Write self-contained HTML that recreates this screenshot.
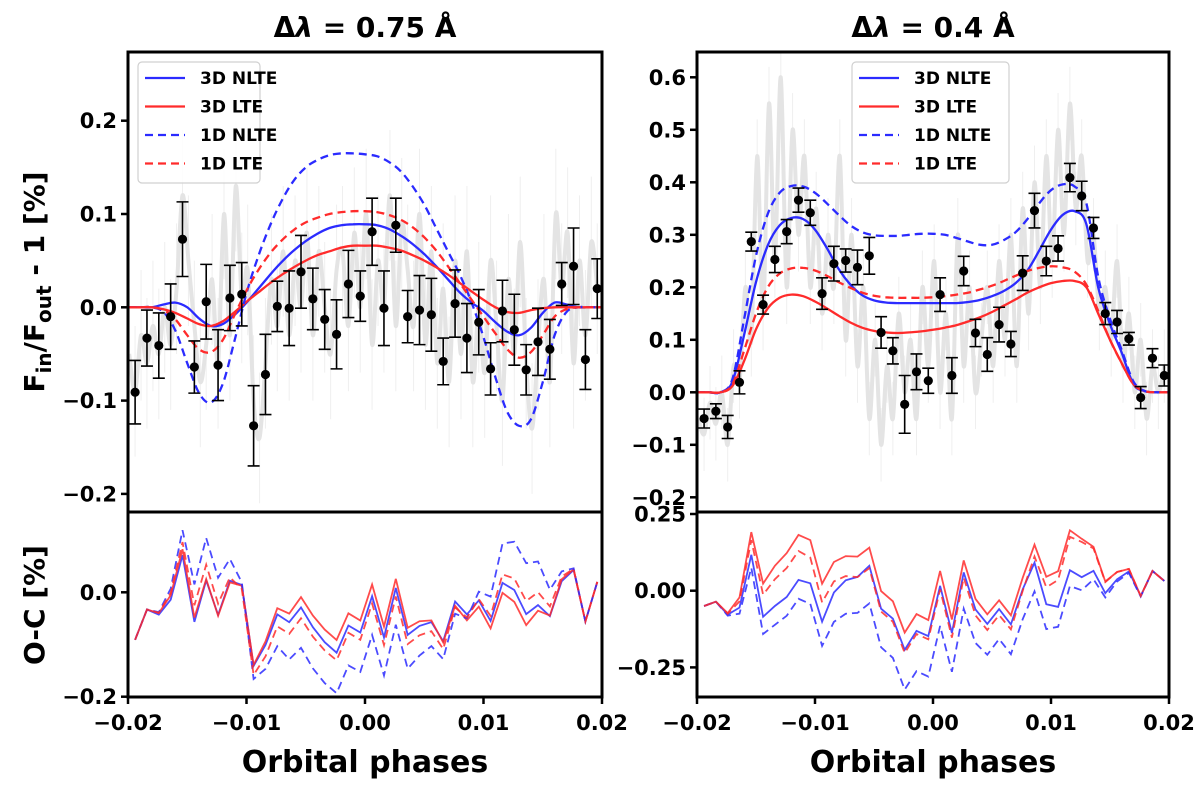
<!DOCTYPE html>
<html><head><meta charset="utf-8"><style>
body{margin:0;background:#fff}
svg text{font-family:"DejaVu Sans","Liberation Sans",sans-serif;font-weight:bold;fill:#000}
</style></head><body>
<svg id="fig" width="1200" height="788" viewBox="0 0 1200 788" xmlns="http://www.w3.org/2000/svg">
<text x="365" y="37" font-size="28" text-anchor="middle">Δ<tspan font-style="italic">λ</tspan> = 0.75 Å</text>
<text x="933" y="37" font-size="28" text-anchor="middle">Δ<tspan font-style="italic">λ</tspan> = 0.4 Å</text>
<text transform="translate(44,282) rotate(-90)" font-size="28" text-anchor="middle">F<tspan font-size="20" dy="7">in</tspan><tspan dy="-7">/F</tspan><tspan font-size="20" dy="7">out</tspan><tspan dy="-7"> - 1 [%]</tspan></text>
<text transform="translate(44,605) rotate(-90)" font-size="28" text-anchor="middle">O-C [%]</text>
<text x="365" y="772" font-size="30" text-anchor="middle">Orbital phases</text>
<text x="933" y="772" font-size="30" text-anchor="middle">Orbital phases</text>
</svg>
<script>
const phases=[-0.0194,-0.0184,-0.0174,-0.0164,-0.0154,-0.0144,-0.0134,-0.0124,-0.0114,-0.0104,-0.0094,-0.0084,-0.0074,-0.0064,-0.0054,-0.0044,-0.0034,-0.0024,-0.0014,-0.0004,0.0006,0.0016,0.0026,0.0036,0.0046,0.0056,0.0066,0.0076,0.0086,0.0096,0.0106,0.0116,0.0126,0.0136,0.0146,0.0156,0.0166,0.0176,0.0186,0.0196];
const obsLeft=[-0.091,-0.033,-0.041,-0.010,0.073,-0.064,0.006,-0.062,0.010,0.014,-0.127,-0.072,0.001,-0.001,0.038,0.009,-0.013,-0.029,0.025,0.012,0.081,-0.001,0.088,-0.010,-0.003,-0.008,-0.058,0.004,-0.033,-0.016,-0.066,-0.004,-0.024,-0.067,-0.037,-0.045,0.025,0.044,-0.056,0.020];
const errLeft=[0.034,0.03,0.035,0.035,0.04,0.028,0.04,0.038,0.035,0.034,0.043,0.043,0.027,0.04,0.039,0.033,0.032,0.037,0.036,0.027,0.036,0.04,0.029,0.028,0.037,0.039,0.025,0.036,0.037,0.035,0.028,0.033,0.038,0.027,0.036,0.032,0.023,0.041,0.032,0.032];
const obsRight=[-0.050,-0.036,-0.066,0.019,0.287,0.167,0.253,0.306,0.366,0.342,0.188,0.245,0.251,0.238,0.260,0.114,0.079,-0.023,0.039,0.022,0.186,0.032,0.231,0.113,0.072,0.129,0.092,0.227,0.346,0.250,0.274,0.409,0.374,0.313,0.150,0.134,0.102,-0.010,0.065,0.032];
const errRight=[0.018,0.014,0.022,0.022,0.018,0.018,0.025,0.023,0.023,0.024,0.03,0.033,0.022,0.033,0.035,0.03,0.025,0.055,0.034,0.024,0.032,0.034,0.028,0.026,0.032,0.033,0.024,0.033,0.033,0.028,0.024,0.027,0.028,0.02,0.021,0.022,0.012,0.021,0.018,0.02];
const modelGrid=[-0.020,-0.019,-0.018,-0.017,-0.016,-0.015,-0.014,-0.013,-0.012,-0.011,-0.010,-0.009,-0.008,-0.007,-0.006,-0.005,-0.004,-0.003,-0.002,-0.001,0,0.001,0.002,0.003,0.004,0.005,0.006,0.007,0.008,0.009,0.010,0.011,0.012,0.013,0.014,0.015,0.016,0.017,0.018,0.019,0.020];
const L3DNLTE=[0,0,0,0.003,0.005,0.0,-0.012,-0.02,-0.018,-0.008,0.005,0.02,0.035,0.049,0.061,0.071,0.079,0.085,0.088,0.089,0.089,0.088,0.084,0.077,0.068,0.057,0.044,0.030,0.016,0.005,-0.004,-0.016,-0.026,-0.030,-0.022,-0.006,0.005,0.003,0,0,0];
const L3DLTE=[0,0,0,-0.002,-0.006,-0.012,-0.018,-0.02,-0.015,-0.005,0.006,0.016,0.026,0.035,0.043,0.050,0.056,0.060,0.064,0.066,0.066,0.066,0.064,0.061,0.056,0.050,0.043,0.035,0.026,0.017,0.008,0.0,-0.005,-0.006,-0.003,-0.001,0,0,0,0,0];
const L1DNLTE=[0,0,0,-0.005,-0.025,-0.06,-0.092,-0.102,-0.082,-0.035,0.015,0.055,0.088,0.115,0.136,0.150,0.158,0.163,0.165,0.165,0.164,0.162,0.156,0.146,0.13,0.11,0.085,0.06,0.035,0.005,-0.032,-0.075,-0.112,-0.127,-0.12,-0.08,-0.03,-0.005,0,0,0];
const L1DLTE=[0,0,0,-0.003,-0.013,-0.03,-0.045,-0.048,-0.035,-0.008,0.018,0.04,0.058,0.072,0.083,0.091,0.096,0.1,0.102,0.103,0.103,0.102,0.099,0.094,0.086,0.075,0.061,0.044,0.026,0.008,-0.01,-0.028,-0.045,-0.054,-0.048,-0.03,-0.01,-0.002,0,0,0];
const R3DNLTE=[0,0,0,0.02,0.11,0.21,0.28,0.318,0.332,0.33,0.31,0.275,0.235,0.205,0.185,0.175,0.171,0.17,0.17,0.17,0.17,0.17,0.17,0.172,0.176,0.183,0.193,0.208,0.232,0.27,0.31,0.338,0.345,0.32,0.2,0.13,0.075,0.015,0.002,0,0];
const R3DLTE=[0,0,0,0.012,0.06,0.12,0.16,0.18,0.186,0.183,0.173,0.16,0.146,0.133,0.123,0.117,0.114,0.113,0.114,0.116,0.119,0.123,0.128,0.135,0.143,0.153,0.165,0.177,0.19,0.2,0.208,0.212,0.212,0.2,0.15,0.1,0.055,0.015,0.002,0,0];
const R1DNLTE=[0,0,0,0.025,0.14,0.26,0.34,0.38,0.393,0.392,0.38,0.36,0.338,0.318,0.305,0.299,0.298,0.298,0.3,0.302,0.302,0.3,0.294,0.287,0.281,0.281,0.29,0.305,0.33,0.36,0.385,0.396,0.392,0.36,0.22,0.14,0.08,0.02,0.002,0,0];
const R1DLTE=[0,0,0,0.015,0.08,0.15,0.2,0.226,0.236,0.237,0.232,0.222,0.21,0.199,0.19,0.184,0.181,0.18,0.18,0.18,0.181,0.183,0.186,0.19,0.196,0.203,0.212,0.222,0.231,0.237,0.24,0.238,0.23,0.205,0.155,0.1,0.055,0.015,0.002,0,0];
const grayLeft=[-0.05,-0.09,-0.03,-0.06,-0.02,-0.05,0.0,-0.04,0.02,0.12,0.05,-0.02,-0.08,-0.04,0.03,-0.06,0.1,-0.03,0.13,0.01,0.04,-0.1,-0.14,-0.06,0.03,-0.02,0.06,-0.03,0.05,0.0,0.08,-0.03,0.06,0.0,-0.05,0.04,0.06,-0.02,0.08,0.0,0.1,-0.04,0.05,0.0,0.12,-0.02,0.09,0.04,-0.02,0.1,-0.04,0.06,-0.06,0.02,-0.08,0.05,-0.05,0.06,-0.08,0.0,-0.07,0.05,-0.02,-0.1,0.03,-0.05,0.07,-0.06,-0.13,-0.04,0.03,-0.08,0.1,0.02,0.08,-0.06,0.05,-0.03,0.07,0.02];
const grayRight=[-0.05,-0.08,-0.02,-0.06,0.0,-0.1,0.05,0.02,0.2,0.1,0.45,0.15,0.55,0.25,0.6,0.2,0.5,0.3,0.45,0.2,0.35,0.15,0.3,0.2,0.45,0.1,0.3,0.05,0.2,-0.05,0.1,-0.1,0.05,-0.05,0.15,0.0,0.1,-0.05,0.2,0.05,0.25,0.0,0.15,-0.05,0.3,0.05,0.2,0.0,0.1,0.2,0.05,0.25,0.1,0.3,0.05,0.35,0.15,0.4,0.2,0.45,0.25,0.5,0.3,0.55,0.35,0.45,0.25,0.3,0.15,0.2,0.1,0.25,0.05,0.15,0.0,0.1,-0.05,0.05,0.0,0.05];
const xTicks=[-0.02,-0.01,0.00,0.01,0.02];
const xTickLabels=["\u22120.02","\u22120.01","0.00","0.01","0.02"];
const lTopTicks=[0.2,0.1,0.0,-0.1,-0.2];
const lTopLabels=["0.2","0.1","0.0","\u22120.1","\u22120.2"];
const lBotTicks=[0.0,-0.2];
const lBotLabels=["0.0","\u22120.2"];
const rTopTicks=[0.6,0.5,0.4,0.3,0.2,0.1,0.0,-0.1,-0.2];
const rTopLabels=["0.6","0.5","0.4","0.3","0.2","0.1","0.0","\u22120.1","\u22120.2"];
const rBotTicks=[0.25,0.0,-0.25];
const rBotLabels=["0.25","0.00","\u22120.25"];
const seriesNames=["3D NLTE","3D LTE","1D NLTE","1D LTE"];

const NS="http://www.w3.org/2000/svg";
const svg=document.getElementById('fig');
const BLUE="#2b2bff", RED="#ff2b2b";
function mk(tag,attrs,parent){const e=document.createElementNS(NS,tag);for(const k in attrs)e.setAttribute(k,attrs[k]);(parent||svg).appendChild(e);return e;}
function interp(ph,arr){if(ph<=modelGrid[0])return arr[0];for(let i=0;i<modelGrid.length-1;i++){if(ph<=modelGrid[i+1]){const t=(ph-modelGrid[i])/(modelGrid[i+1]-modelGrid[i]);return arr[i]+t*(arr[i+1]-arr[i]);}}return arr[arr.length-1];}
function smoothPath(pts){let d="M"+pts[0][0].toFixed(1)+","+pts[0][1].toFixed(1);for(let i=0;i<pts.length-1;i++){const p0=pts[Math.max(0,i-1)],p1=pts[i],p2=pts[i+1],p3=pts[Math.min(pts.length-1,i+2)];const c1=[p1[0]+(p2[0]-p0[0])/6,p1[1]+(p2[1]-p0[1])/6],c2=[p2[0]-(p3[0]-p1[0])/6,p2[1]-(p3[1]-p1[1])/6];d+=" C"+c1[0].toFixed(1)+","+c1[1].toFixed(1)+" "+c2[0].toFixed(1)+","+c2[1].toFixed(1)+" "+p2[0].toFixed(1)+","+p2[1].toFixed(1);}return d;}
function linePath(pts){return pts.map((p,i)=>(i?"L":"M")+p[0].toFixed(1)+","+p[1].toFixed(1)).join(" ");}

function panel(cfg){
  const X=ph=>cfg.x0+(ph+0.02)/0.04*(cfg.x1-cfg.x0);
  const YT=v=>cfg.tZero-v*cfg.tScale;
  const YB=v=>cfg.bZero-v*cfg.bScale;
  const clipId="clip-"+cfg.key;
  const cp=mk('clipPath',{id:clipId});
  mk('rect',{x:cfg.x0,y:52,width:cfg.x1-cfg.x0,height:460},cp);
  const clipB="clipb-"+cfg.key;
  const cpb=mk('clipPath',{id:clipB});
  mk('rect',{x:cfg.x0,y:512,width:cfg.x1-cfg.x0,height:185},cpb);
  const g=mk('g',{'clip-path':'url(#'+clipId+')'});
  
  
  const gpts=cfg.gray.map((v,i)=>[X(-0.0199+i*0.0005),YT(v)]);
  gpts.forEach((p,i)=>{
    const eb=mk('line',{x1:p[0],x2:p[0],y1:YT(cfg.gray[i]+0.07),y2:YT(cfg.gray[i]-0.07),stroke:'#efefef','stroke-width':1},g);
    
    
  });
  const gl=mk('path',{d:smoothPath(gpts),fill:'none',stroke:'#e4e4e4','stroke-width':4},g);
  
  
  const models=[[cfg.m3n,BLUE,null],[cfg.m3l,RED,null],[cfg.m1n,BLUE,'8,5'],[cfg.m1l,RED,'8,5']];
  models.forEach((m,k)=>{
    const pts=modelGrid.map((ph,i)=>[X(ph),YT(m[0][i])]);
    const a={d:smoothPath(pts),fill:'none',stroke:m[1],'stroke-width':2.3};
    if(m[2])a['stroke-dasharray']=m[2];
    const p=mk('path',a,g);
    
    
  });
  phases.forEach((ph,i)=>{
    const x=X(ph),v=cfg.obs[i],e=cfg.err[i];
    const eb=mk('path',{d:`M${x},${YT(v+e)}V${YT(v-e)}M${x-6},${YT(v+e)}h12M${x-6},${YT(v-e)}h12`,stroke:'#000','stroke-width':1.6,fill:'none'},g);
    
    
    const c=mk('circle',{cx:x,cy:YT(v),r:4.6,fill:'#000'},g);
    
    
  });
  const gb=mk('g',{'clip-path':'url(#'+clipB+')'});
  
  
  models.forEach((m,k)=>{
    const pts=phases.map((ph,i)=>[X(ph),YB(cfg.obs[i]-interp(ph,m[0]))]);
    const a={d:linePath(pts),fill:'none',stroke:m[1],'stroke-width':1.8,'stroke-opacity':0.85};
    if(m[2])a['stroke-dasharray']=m[2];
    const p=mk('path',a,gb);
    
    
  });
  const f1=mk('rect',{x:cfg.x0,y:52,width:cfg.x1-cfg.x0,height:460,fill:'none',stroke:'#000','stroke-width':3});
  
  
  const f2=mk('rect',{x:cfg.x0,y:512,width:cfg.x1-cfg.x0,height:185,fill:'none',stroke:'#000','stroke-width':3});
  
  
  cfg.tTicks.forEach((v,i)=>{
    const y=YT(v);
    const t=mk('line',{x1:cfg.x0-7,x2:cfg.x0,y1:y,y2:y,stroke:'#000','stroke-width':2.5});
    
    
    const tx=mk('text',{x:cfg.x0-11,y:y+7.5,'font-size':21,'text-anchor':'end'});
    tx.textContent=cfg.tLabels[i];
    
    
  });
  cfg.bTicks.forEach((v,i)=>{
    const y=YB(v);
    const t=mk('line',{x1:cfg.x0-7,x2:cfg.x0,y1:y,y2:y,stroke:'#000','stroke-width':2.5});
    
    
    const tx=mk('text',{x:cfg.x0-11,y:y+7.5,'font-size':21,'text-anchor':'end'});
    tx.textContent=cfg.bLabels[i];
    
    
  });
  xTicks.forEach((v,i)=>{
    const x=X(v);
    const t=mk('line',{x1:x,x2:x,y1:697,y2:704,stroke:'#000','stroke-width':2.5});
    
    
    const tx=mk('text',{x:x,y:730,'font-size':21,'text-anchor':'middle'});
    tx.textContent=xTickLabels[i];
    
    
  });
  const lg=mk('g',{});
  
  
  mk('rect',{x:cfg.lx,y:62,width:cfg.lw,height:121,rx:4,fill:'#fff','fill-opacity':0.85,stroke:'#d0d0d0','stroke-width':1.2},lg);
  const ls=[[BLUE,null],[RED,null],[BLUE,'8,5'],[RED,'8,5']];
  ls.forEach((s,k)=>{
    const y=78+k*28.5;
    const e=mk('g',{},lg);
    
    
    const a={x1:cfg.lx+7,x2:cfg.lx+47,y1:y,y2:y,stroke:s[0],'stroke-width':2.3};
    if(s[1])a['stroke-dasharray']=s[1];
    mk('line',a,e);
    const t=mk('text',{x:cfg.lx+62,y:y+6,'font-size':17},e);
    t.textContent=seriesNames[k];
  });
}
panel({key:'left',x0:128,x1:602,tZero:307.3,tScale:933,bZero:592.3,bScale:522,obs:obsLeft,err:errLeft,gray:grayLeft,m3n:L3DNLTE,m3l:L3DLTE,m1n:L1DNLTE,m1l:L1DLTE,tTicks:lTopTicks,tLabels:lTopLabels,bTicks:lBotTicks,bLabels:lBotLabels,lx:138,lw:122});
panel({key:'right',x0:697,x1:1169,tZero:392.3,tScale:525,bZero:590.7,bScale:306.8,obs:obsRight,err:errRight,gray:grayRight,m3n:R3DNLTE,m3l:R3DLTE,m1n:R1DNLTE,m1l:R1DLTE,tTicks:rTopTicks,tLabels:rTopLabels,bTicks:rBotTicks,bLabels:rBotLabels,lx:852,lw:157});
</script>
</body></html>
